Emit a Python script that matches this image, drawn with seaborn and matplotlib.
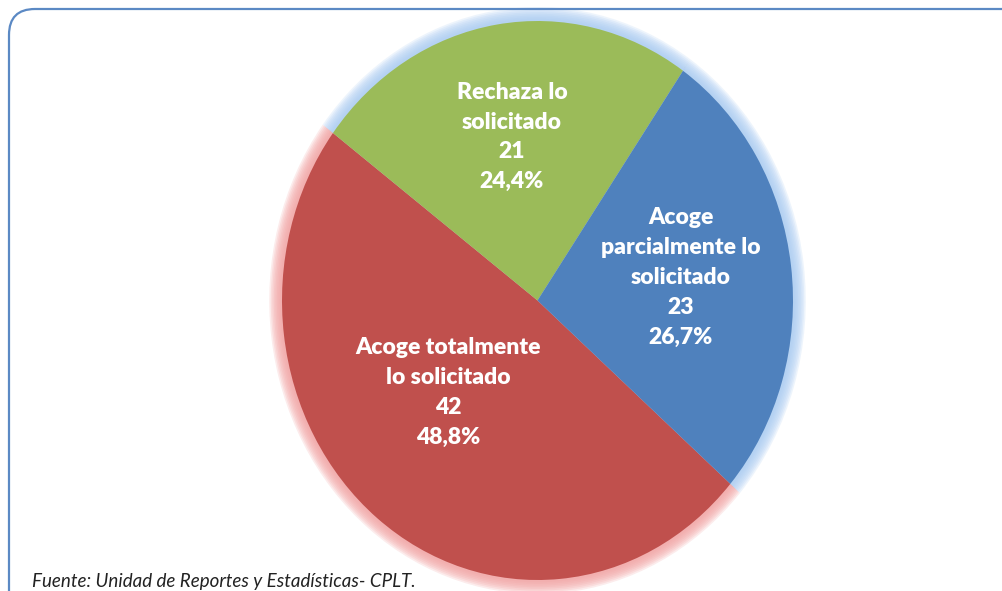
import matplotlib
matplotlib.use("Agg")
import matplotlib.pyplot as plt
import matplotlib.patches as mpatches
import matplotlib.transforms as mtransforms
import seaborn as sns

# Data
categorias = ["Acoge totalmente\nlo solicitado", "Rechaza lo\nsolicitado", "Acoge\nparcialmente lo\nsolicitado"]
casos = [42, 21, 23]
porcentajes = ["48,8%", "24,4%", "26,7%"]
colores = ["#C0504D", "#9BBB59", "#4F81BD"]
brillos = ["#F2A0A0", "#A9CBF2", "#A9CBF2"]
# where each label sits inside its slice (axes data units)
pos_etiquetas = [(-0.35, -0.33), (-0.10, 0.585), (0.56, 0.082)]

sns.set_theme(style="white")
plt.rcParams['font.family'] = ['Lato', 'DejaVu Sans']

W, H = 1002, 591
fig = plt.figure(figsize=(W / 100, H / 100), dpi=100)
fig.patch.set_facecolor("white")

# pie bounding box in pixels: x 282-793, y 21-580 (from top)
ax = fig.add_axes([282 / W, (H - 580) / H, (793 - 282) / W, (580 - 21) / H])

# soft glow behind the slices
for i in range(8):
    r = 1.05 - i * 0.006
    ax.pie(casos, colors=brillos, startangle=-41, counterclock=False,
           radius=r, wedgeprops=dict(alpha=0.2, linewidth=0))

ax.pie(casos, colors=colores, startangle=-41, counterclock=False,
       radius=1.0, wedgeprops=dict(linewidth=0))

ax.set_aspect("auto")
ax.set_xlim(-1, 1)
ax.set_ylim(-1, 1)
ax.axis("off")

for cat, n, pct, (x, y) in zip(categorias, casos, porcentajes, pos_etiquetas):
    ax.text(x, y, f"{cat}\n{n}\n{pct}", ha="center", va="center",
            color="white", fontsize=16.5, fontweight="heavy", linespacing=1.52)

# rounded frame, cut by the right and bottom edges
marco = mpatches.FancyBboxPatch((9, -30), 1040, H - 9 + 30,
                                boxstyle="round,pad=0,rounding_size=26",
                                transform=mtransforms.IdentityTransform(),
                                facecolor="none", edgecolor="#5B89C4", linewidth=1.6)
fig.patches.append(marco)

fig.text(32 / W, 1.5 / H, "Fuente: Unidad de Reportes y Estadísticas- CPLT.",
         ha="left", va="bottom", fontsize=13.5, style="italic", color="#222222")

fig.savefig("out.png", dpi=100)
